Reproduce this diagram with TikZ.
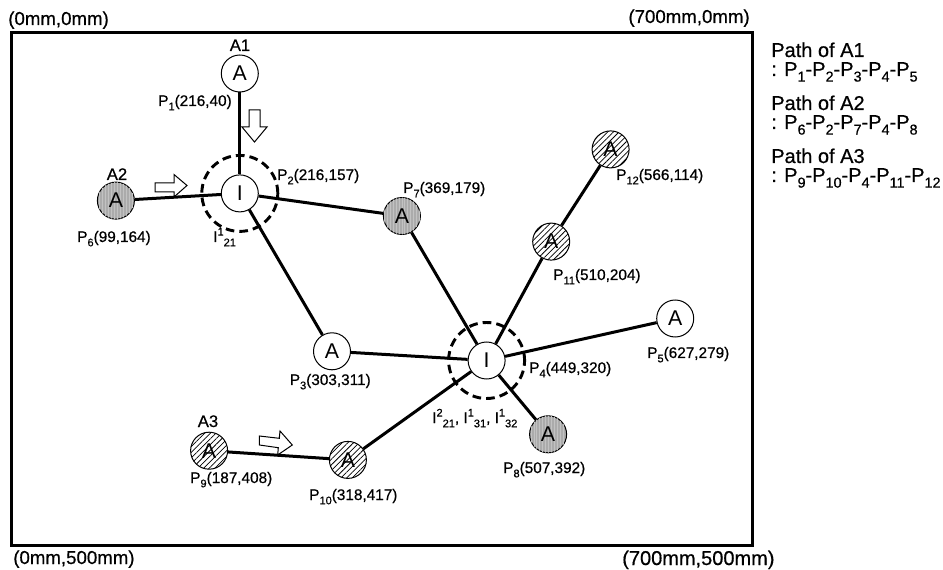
\documentclass[tikz,border=0pt]{standalone}
\usepackage{fontspec}
\setmainfont{Liberation Sans}
\newfontfamily\lblfont{Liberation Sans}[FakeBold=0.6]
\usepackage{graphicx}
\usetikzlibrary{patterns.meta}
\newcommand\sbs[1]{\raisebox{-0.28em}{\scalebox{0.72}{#1}}}
\newcommand\sps[1]{\raisebox{0.42em}{\scalebox{0.72}{#1}}}
\begin{document}
\begin{tikzpicture}[x=0.75pt,y=-0.75pt,
  circ/.style={circle, draw=black, line width=0.75pt, minimum size=27.75pt, inner sep=0pt, font=\fontsize{16}{16}\selectfont},
  wnode/.style={circ, fill=white},
  gnode/.style={circ, fill=black!33, postaction={pattern={Lines[angle=90,distance=2.2pt,line width=0.5pt]}, pattern color=black!24}},
  hnode/.style={circ, fill=white, postaction={pattern={Lines[angle=45,distance=3pt,line width=0.55pt]}, pattern color=black}},
  conn/.style={line width=2.25pt},
  ring/.style={line width=2.2pt, dash pattern=on 6.5pt off 3.8pt},
  hollow/.style={draw=black, fill=white, line width=0.75pt, line join=miter},
  lbl/.style={inner sep=0pt, font=\lblfont\fontsize{11.5}{13}\selectfont},
  albl/.style={inner sep=0pt, font=\lblfont\fontsize{12.5}{14}\selectfont, anchor=base},
  clbl/.style={inner sep=0pt, font=\lblfont\fontsize{14}{16}\selectfont},
  ptxt/.style={inner sep=0pt, font=\lblfont\fontsize{15}{18}\selectfont, anchor=base west}]
\useasboundingbox (0,0) rectangle (943,570);
\fill[white] (0,0) rectangle (943,570);
% frame
\draw[line width=2.25pt] (11,32.5) rectangle (752.5,545);
% hollow arrows
\draw[hollow] (249,110) -- (260,110) -- (260,127) -- (267,127) -- (254.5,142) -- (242,127) -- (249,127) -- cycle;
\draw[hollow] (155,183) -- (174,183) -- (174,174.5) -- (187,185.5) -- (174,197) -- (174,192) -- (155,192) -- cycle;
\draw[hollow] (259.3,436) -- (279.3,438.3) -- (280,431) -- (292.3,445) -- (277.7,455) -- (278.3,447.7) -- (259.3,445) -- cycle;
% nodes
\node[wnode] (p1) at (239.8,73.5) {A};
\node[wnode] (p2) at (239.8,193.4) {I};
\node[wnode] (p3) at (332.0,351.3) {A};
\node[wnode] (p4) at (486.6,360.5) {I};
\node[wnode] (p5) at (675.2,318.5) {A};
\node[gnode] (p6) at (115.9,200.6) {A};
\node[gnode] (p7) at (401.9,216.0) {A};
\node[gnode] (p8) at (548.1,434.3) {A};
\node[hnode] (p9) at (209.1,450.7) {A};
\node[hnode] (p10) at (347.9,459.9) {A};
\node[hnode] (p11) at (551.2,241.6) {A};
\node[hnode] (p12) at (610.6,149.4) {A};
% dashed rings
\draw[ring] (p2.center) circle[radius=28.5pt];
\draw[ring] (p4.center) circle[radius=28.5pt];
% connectors
\draw[conn] (p1) -- (p2);
\draw[conn] (p6) -- (p2);
\draw[conn] (p2) -- (p7);
\draw[conn] (p2) -- (p3);
\draw[conn] (p3) -- (p4);
\draw[conn] (p7) -- (p4);
\draw[conn] (p4) -- (p5);
\draw[conn] (p4) -- (p8);
\draw[conn] (p4) -- (p11);
\draw[conn] (p11) -- (p12);
\draw[conn] (p9) -- (p10);
\draw[conn] (p10) -- (p4);
% agent labels
\node[albl] (a1) at (240,51) {A1};
\node[albl] (a2) at (117,180) {A2};
\node[albl] (a3) at (208,427) {A3};
% point labels
\node[lbl, anchor=base east] (l1) at (232,106) {P\sbs{1}(216,40)};
\node[lbl, anchor=base west] (l2) at (277,180) {P\sbs{2}(216,157)};
\node[lbl, anchor=base west] (l6) at (77,242) {P\sbs{6}(99,164)};
\node[lbl, anchor=base west] (li1) at (213,242) {I\sps{1}\sbs{21}};
\node[lbl, anchor=base west] (l7) at (403,193) {P\sbs{7}(369,179)};
\node[lbl, anchor=base west] (l12) at (616,180) {P\sbs{12}(566,114)};
\node[lbl, anchor=base west] (l11) at (553,280) {P\sbs{11}(510,204)};
\node[lbl, anchor=base east] (l3) at (371,385) {P\sbs{3}(303,311)};
\node[lbl, anchor=base west] (l4) at (529,373) {P\sbs{4}(449,320)};
\node[lbl, anchor=base west] (li2) at (432,423) {I\sps{2}\sbs{21}, I\sps{1}\sbs{31}, I\sps{1}\sbs{32}};
\node[lbl, anchor=base west] (l8) at (503,473) {P\sbs{8}(507,392)};
\node[lbl, anchor=base west] (l5) at (647,358) {P\sbs{5}(627,279)};
\node[lbl, anchor=base west] (l9) at (190,483) {P\sbs{9}(187,408)};
\node[lbl, anchor=base west] (l10) at (309,500) {P\sbs{10}(318,417)};
% corner labels
\node[clbl, anchor=base west] (c1) at (8,25) {(0mm,0mm)};
\node[clbl, anchor=base east] (c2) at (750,23) {(700mm,0mm)};
\node[clbl, anchor=base west] (c3) at (13,564) {(0mm,500mm)};
\node[clbl, anchor=base west, font=\lblfont\fontsize{15}{17}\selectfont] (c4) at (622,565) {(700mm,500mm)};
% path texts
\node[ptxt] (t1) at (771,57) {Path of A1};
\node[ptxt] (t2) at (771,76) {: P\sbs{1}-P\sbs{2}-P\sbs{3}-P\sbs{4}-P\sbs{5}};
\node[ptxt] (t3) at (771,110) {Path of A2};
\node[ptxt] (t4) at (771,129) {: P\sbs{6}-P\sbs{2}-P\sbs{7}-P\sbs{4}-P\sbs{8}};
\node[ptxt] (t5) at (771,163) {Path of A3};
\node[ptxt] (t6) at (771,182) {: P\sbs{9}-P\sbs{10}-P\sbs{4}-P\sbs{11}-P\sbs{12}};
\end{tikzpicture}
\end{document}
